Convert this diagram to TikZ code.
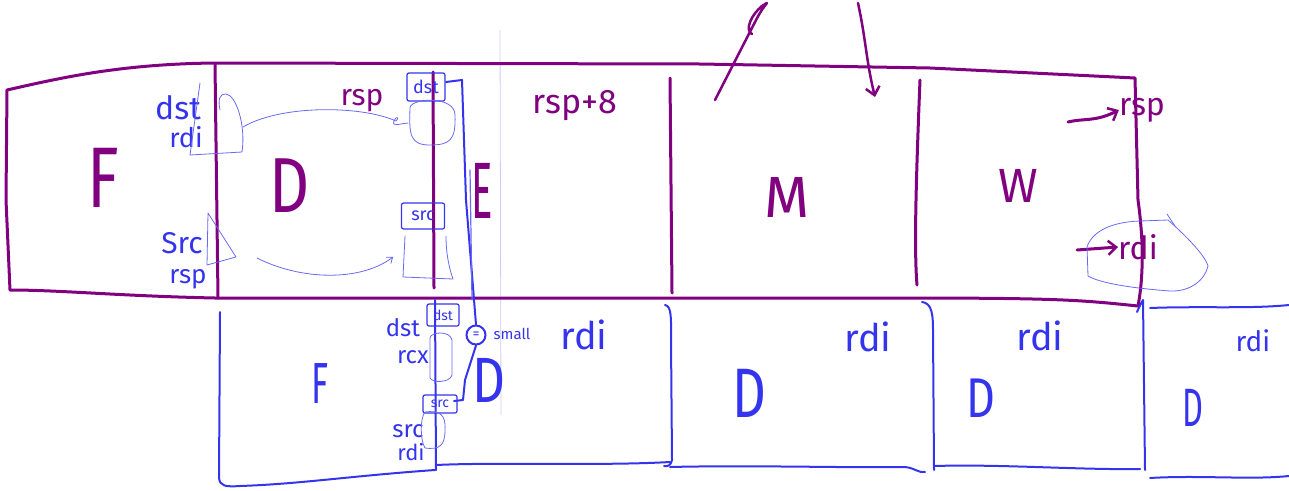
\documentclass[tikz,border=0pt]{standalone}
\usepackage{fontspec}
\setmainfont{Fira Sans}
\usetikzlibrary{arrows.meta}
\definecolor{pur}{RGB}{128,0,128}
\definecolor{blu}{RGB}{52,52,238}
\definecolor{lblu}{RGB}{105,105,245}
\definecolor{lav}{RGB}{205,205,250}
\newcommand{\fs}[1]{\fontsize{#1}{#1}\selectfont}
\begin{document}
\begin{tikzpicture}[x=1pt,y=-1pt,
  pl/.style={pur,line width=3pt,line cap=round,line join=round},
  bl/.style={blu,line width=2pt,line cap=round,line join=round},
  tb/.style={lblu,line width=0.8pt,line cap=round,line join=round},
  pt/.style={pur,inner sep=0pt},
  bt/.style={blu,inner sep=0pt},
  barb/.style={-{Straight Barb[length=8pt,width=14pt,line width=2.5pt]}}]
\useasboundingbox (0,0) rectangle (1289,490);
% faint guide line
\draw[lav,line width=0.8pt] (500,30) -- (501,415);
% purple top box
\draw[pl] (7,90) .. controls (60,78) and (120,64) .. (215,63) -- (700,64) -- (930,68) -- (1135,78)
  -- (1138,200) .. controls (1145,250) and (1142,285) .. (1138,306)
  .. controls (1080,300) and (1060,298) .. (900,298) -- (215,298)
  .. controls (120,296) and (60,290) .. (10,290) -- (6,200) -- cycle;
\draw[pl] (215,64) -- (218,298);
\draw[pl] (433,72) -- (434,288);
\draw[pl] (670,78) -- (672,293);
\draw[pl] (920,80) .. controls (916,180) and (914,250) .. (917,285);
% purple labels
\node[pt,font=\fs{86}] (F1) at (103,178) {\scalebox{0.75}[1]{F}};
\node[pt,font=\fs{78}] (D1) at (290,186) {\scalebox{0.8}[1]{D}};
\node[pt,font=\fs{80}] (E1) at (482,191) {\scalebox{0.5}[1]{E}};
\node[pt,font=\fs{58}] (M1) at (787,198) {M};
\node[pt,font=\fs{48}] (W1) at (1018,186) {W};
\node[pt,font=\fs{30}] (rsp1) at (362,101) {rsp};
\node[pt,font=\fs{34}] (rsp8) at (575,106) {rsp+8};
\node[pt,font=\fs{32}] (rsp2) at (1142,110) {rsp};
\node[pt,font=\fs{32}] (rdi2) at (1138,247) {rdi};
% purple arrows
\coordinate (a1s) at (1068,122);
\coordinate (a2s) at (1077,250);
\draw[pl,barb] (a1s) .. controls (1085,118) and (1095,122) .. (rsp2.west);
\draw[pl,barb] (a2s) -- (rdi2.west);
\coordinate (up0) at (715,100);
\coordinate (up1) at (762,6);
\draw[pl,line width=2.5pt] (up0) -- (755,22) .. controls (765,2) and (772,0) .. (up1) .. controls (752,14) and (744,30) .. (752,34);
\coordinate (dn0) at (858,3);
\coordinate (dn1) at (875,97);
\draw[pl,line width=2.5pt,barb] (dn0) .. controls (866,40) and (866,60) .. (dn1);
% blue lower row
\draw[bl] (220,312) -- (219,478) .. controls (220,486) and (225,487) .. (240,486)
  .. controls (300,484) and (350,476) .. (435,470);
\draw[bl] (435,300) -- (436,470);
\draw[bl] (436,465) .. controls (500,462) and (600,466) .. (670,462);
\draw[bl] (665,305) .. controls (672,306) and (671,320) .. (671,340) -- (672,460) .. controls (671,465) and (668,467) .. (664,466);
\draw[bl] (670,467) .. controls (750,465) and (850,468) .. (905,467) .. controls (915,468) and (918,473) .. (925,472);
\draw[bl] (922,302) .. controls (932,303) and (933,315) .. (933,330) -- (934,470);
\draw[bl] (934,466) .. controls (1000,464) and (1080,470) .. (1140,469);
\draw[bl] (1137,312) .. controls (1140,305) and (1143,300) .. (1143,300) -- (1145,470);
\draw[bl] (1150,308) .. controls (1200,306) and (1250,309) .. (1289,305);
\draw[bl] (1150,478) .. controls (1200,475) and (1250,480) .. (1289,476);
% blue line near E and circle
\node[bt,draw=blu,line width=2pt,circle,minimum size=19pt,font=\fs{14}] (eq) at (476,335) {=};
\node[bt,font=\fs{15}] (small) at (512,334) {small};
\draw[bl] (446,82) -- (462,80) -- (466,200) -- (eq.north);
\draw[tb,line width=1.2pt] (470,170) -- (472,300);
\draw[bl] (eq.south) -- (465,380) -- (463,400) -- (454,401);
% blue labels lower row
\node[bt,font=\fs{58}] (F2) at (320,384) {\scalebox{0.6}[1]{F}};
\node[bt,font=\fs{64}] (D2) at (489,380) {\scalebox{0.8}[1]{D}};
\node[bt,font=\fs{70}] (D3) at (749,393) {\scalebox{0.75}[1]{D}};
\node[bt,font=\fs{56}] (D4) at (981,398) {\scalebox{0.8}[1]{D}};
\node[bt,font=\fs{54}] (D5) at (1193,408) {\scalebox{0.6}[1]{D}};
\node[bt,font=\fs{38}] (rdi3) at (584,335) {rdi};
\node[bt,font=\fs{38}] (rdi4) at (868,337) {rdi};
\node[bt,font=\fs{38}] (rdi5) at (1040,336) {rdi};
\node[bt,font=\fs{28}] (rdi6) at (1253,341) {rdi};
% blue labels left
\node[bt,font=\fs{32}] (dstL) at (178,108) {dst};
\node[bt,font=\fs{27}] (rdiL) at (186,137) {rdi};
\node[bt,font=\fs{30}] (srcL) at (182,243) {Src};
\node[bt,font=\fs{26}] (rspL) at (188,279) {rsp};
\node[bt,font=\fs{24}] (dstB) at (403,328) {dst};
\node[bt,font=\fs{24}] (rcxB) at (413,357) {rcx};
\node[bt,font=\fs{24}] (srcB) at (408,431) {src};
\node[bt,font=\fs{22}] (rdiB) at (411,452) {rdi};
% small boxes
\node[bt,draw=blu,line width=1.2pt,rounded corners=2pt,minimum width=38pt,minimum height=28pt,font=\fs{18}] (dstbox) at (426,87) {dst};
\node[bt,draw=blu,line width=1.2pt,rounded corners=2pt,minimum width=43pt,minimum height=26pt,font=\fs{18}] (srcbox) at (423,216) {src};
\node[bt,draw=blu,line width=1.2pt,rounded corners=2pt,minimum width=32pt,minimum height=22pt,font=\fs{14}] (dstbox2) at (443,315) {dst};
\node[bt,draw=blu,line width=1.2pt,rounded corners=2pt,minimum width=34pt,minimum height=18pt,font=\fs{14}] (srcbox2) at (440,404) {src};
% thin outlines
\draw[tb] (200,83) -- (190,155) -- (242,152) .. controls (246,125) and (236,95) .. (226,94) .. controls (219,94) and (218,100) .. (220,110);
\draw[tb] (208,213) -- (236,257) -- (207,265) -- cycle;
\coordinate (blobA) at (243,127);
\coordinate (blobB) at (408,123);
\draw[tb] (410,108) .. controls (410,98) and (455,95) .. (455,115) .. controls (456,140) and (450,145) .. (430,145) .. controls (410,145) and (409,135) .. (410,108);
\draw[tb] (blobA) .. controls (280,105) and (360,105) .. (396,121) .. controls (400,118) and (396,115) .. (394,121) .. controls (392,127) and (398,124) .. (blobB);
\draw[tb] (405,236) -- (403,277) -- (453,279) .. controls (448,265) and (446,250) .. (446,236);
\coordinate (blobC) at (257,258);
\coordinate (blobD) at (393,257);
\draw[tb,-{Straight Barb[length=5pt,width=8pt]}] (blobC) .. controls (300,280) and (360,282) .. (blobD);
\draw[tb] (430,338) .. controls (430,332) and (450,330) .. (452,340) -- (452,375) .. controls (450,383) and (432,383) .. (430,378) -- cycle;
\draw[tb] (425,448) .. controls (420,440) and (420,418) .. (425,412) .. controls (440,410) and (446,415) .. (445,430) .. controls (445,445) and (440,450) .. (425,448);
\draw[tb] (1087,247) .. controls (1092,232) and (1110,222) .. (1140,221) -- (1168,220) .. controls (1185,235) and (1205,255) .. (1208,266) .. controls (1205,280) and (1190,292) .. (1170,291) .. controls (1130,288) and (1100,283) .. (1088,276) -- cycle;
\draw[tb] (1167,214) -- (1175,226);
\end{tikzpicture}
\end{document}
